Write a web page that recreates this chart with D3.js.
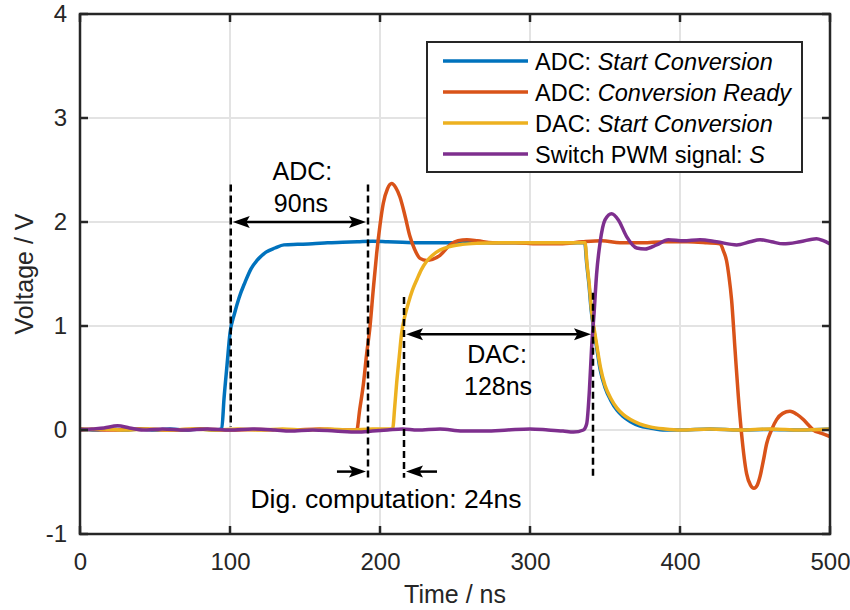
<!DOCTYPE html>
<html>
<head>
<meta charset="utf-8">
<script src="https://cdn.jsdelivr.net/npm/d3@7/dist/d3.min.js"></script>
<style>
  html, body { margin: 0; padding: 0; background: #fff; }
  svg { display: block; font-family: "Liberation Sans", Arial, Helvetica, sans-serif; }
</style>
</head>
<body>
<svg id="chart" width="850" height="610"></svg>
<script>
// ---- data (time in ns, voltage in V) ----
const xTicks = [0, 100, 200, 300, 400, 500];
const yTicks = [-1, 0, 1, 2, 3, 4];

const adcStart = [[0,0.01],[10,0.0],[20,0.01],[30,0.0],[40,0.01],[50,0.0],[60,0.01],[70,0.0],[80,0.01],[90,0.0],[94.5,0.01],[96,0.3],[98,0.62],[100,0.93],[103,1.12],[106,1.27],[110,1.42],[114,1.55],[118,1.63],[124,1.71],[130,1.75],[136,1.78],[145,1.785],[155,1.79],[165,1.80],[175,1.805],[185,1.81],[195,1.815],[205,1.81],[215,1.805],[225,1.80],[240,1.80],[255,1.80],[270,1.80],[285,1.80],[300,1.80],[315,1.80],[330,1.80],[336.5,1.80],[337.8,1.6],[339.3,1.4],[340.8,1.15],[342.8,0.94],[344.8,0.76],[346.8,0.58],[350,0.41],[354,0.28],[358,0.19],[362,0.13],[367,0.08],[373,0.04],[380,0.02],[390,0.0],[400,0.0],[420,0.01],[440,0.0],[460,0.005],[480,0.0],[500,0.01]];

const adcReady = [[0,0.01],[20,0.0],[40,0.01],[60,0.0],[80,0.01],[100,0.0],[120,0.005],[140,0.0],[160,0.01],[175,0.0],[184.5,0.0],[186.5,0.2],[189,0.45],[191,0.72],[193.3,0.99],[195.5,1.35],[197.8,1.70],[200,1.97],[202.2,2.18],[205,2.32],[207.8,2.37],[210.5,2.33],[213.3,2.24],[216.5,2.07],[220,1.86],[223,1.74],[226.7,1.65],[231,1.63],[235,1.64],[240,1.68],[246.7,1.78],[252,1.82],[258,1.83],[265,1.82],[275,1.80],[290,1.80],[305,1.79],[320,1.79],[335,1.81],[348,1.82],[360,1.80],[375,1.80],[390,1.81],[405,1.81],[418,1.80],[426.7,1.79],[429,1.72],[431,1.63],[432.7,1.47],[434.4,1.25],[436.7,0.77],[438.9,0.32],[441,-0.03],[444.4,-0.42],[447,-0.53],[449.3,-0.56],[451.5,-0.53],[453.3,-0.45],[455.5,-0.30],[457.8,-0.13],[461,0.0],[464.4,0.10],[468.5,0.16],[473.3,0.18],[478,0.15],[482.2,0.10],[485.5,0.05],[488.9,0.0],[494,-0.03],[499.5,-0.06]];

const dacStart = [[0,0.0],[15,0.01],[30,0.0],[45,0.01],[60,0.0],[75,0.01],[90,0.0],[105,0.01],[120,0.0],[135,0.01],[150,0.0],[165,0.01],[180,0.0],[195,0.01],[208.4,0.01],[209.8,0.22],[211.1,0.45],[212.8,0.70],[214.4,0.93],[216.5,1.09],[218.9,1.22],[221.5,1.34],[224.4,1.44],[227.5,1.54],[231,1.62],[235,1.68],[240,1.73],[246.7,1.765],[255,1.785],[265,1.795],[280,1.80],[300,1.80],[320,1.80],[336.7,1.80],[338,1.6],[339.5,1.4],[341,1.15],[343,0.95],[345,0.77],[347,0.6],[350,0.43],[354,0.3],[358,0.21],[362,0.15],[367,0.1],[373,0.06],[380,0.03],[390,0.01],[400,0.0],[420,0.01],[440,0.0],[460,0.01],[480,0.0],[500,0.01]];

const pwmS = [[0,0.0],[8,0.01],[16,0.02],[25,0.04],[33,0.02],[42,0.0],[55,0.01],[70,0.0],[85,0.01],[100,0.0],[115,0.01],[130,0.0],[140,-0.01],[155,0.0],[170,-0.01],[185,-0.02],[195,-0.01],[205,0.0],[215,0.01],[225,0.0],[240,0.01],[255,-0.01],[270,-0.01],[285,0.0],[300,0.01],[312,0.0],[322,-0.01],[329,-0.02],[335.6,0.0],[337.8,0.06],[339.6,0.38],[341.1,0.80],[342.7,1.12],[344.4,1.50],[346.7,1.80],[350,2.02],[354.4,2.08],[358.9,2.02],[364.4,1.86],[371.1,1.75],[376.7,1.74],[384.4,1.78],[392.2,1.83],[402.2,1.82],[413.3,1.83],[424.4,1.81],[437.8,1.78],[446.7,1.81],[453.3,1.83],[461,1.81],[468.9,1.79],[480,1.81],[491,1.84],[495.5,1.82],[500,1.79]];

const seriesNames = ["ADC: ", "ADC: ", "DAC: ", "Switch PWM signal: "];
const seriesItalic = ["Start Conversion", "Conversion Ready", "Start Conversion", "S"];
const seriesColors = ["#0072BD", "#D95319", "#EDB120", "#7E2F8E"];
const seriesData = [adcStart, adcReady, dacStart, pwmS];

// annotation values
const markerTimes = [100.5, 192, 216, 342];
const markerTop = [2.36, 2.36, 1.28, 1.32];
const markerBottom = [0.03, -0.46, -0.46, -0.46];
const arrowDouble = [{t0: 100.5, t1: 192, v: 2.0}, {t0: 216, t1: 342, v: 0.92}];
const arrowSingle = [{from: 171.3, to: 192, v: -0.4}, {from: 238, to: 216, v: -0.4}];
const notes = [
  {text: "ADC:", t: 148.3, v: 2.40, size: 25},
  {text: "90ns", t: 147.3, v: 2.10, size: 25},
  {text: "DAC:", t: 278, v: 0.644, size: 25},
  {text: "128ns", t: 278.7, v: 0.337, size: 25},
  {text: "Dig. computation: 24ns", t: 204, v: -0.75, size: 26.5}
];

// ---- layout ----
const svg = d3.select("#chart");
const L = 80, R = 830, T = 14, B = 534;
const x = d3.scaleLinear().domain([0, 500]).range([L, R]);
const y = d3.scaleLinear().domain([-1, 4]).range([B, T]);
const axisColor = "#262626";

// grid
const grid = svg.append("g");
grid.selectAll(".gx").data(xTicks).enter().append("line")
  .attr("x1", d => x(d)).attr("x2", d => x(d)).attr("y1", T).attr("y2", B)
  .attr("stroke", "#e3e3e3").attr("stroke-width", 2);
grid.selectAll(".gy").data(yTicks).enter().append("line")
  .attr("y1", d => y(d)).attr("y2", d => y(d)).attr("x1", L).attr("x2", R)
  .attr("stroke", "#e3e3e3").attr("stroke-width", 2);

// series
const line = d3.line().x(d => x(d[0])).y(d => y(d[1])).curve(d3.curveMonotoneX);
svg.append("clipPath").attr("id", "plotclip").append("rect")
  .attr("x", L).attr("y", T).attr("width", R - L).attr("height", B - T);
const lines = svg.append("g").attr("clip-path", "url(#plotclip)");
seriesData.forEach((s, i) => {
  lines.append("path").datum(s).attr("d", line)
    .attr("fill", "none").attr("stroke", seriesColors[i]).attr("stroke-width", 3.5)
    .attr("stroke-linejoin", "round").attr("stroke-linecap", "round");
});

// annotations: dashed markers
const ann = svg.append("g");
markerTimes.forEach((t, i) => {
  ann.append("line").attr("x1", x(t)).attr("x2", x(t))
    .attr("y1", y(markerTop[i])).attr("y2", y(markerBottom[i]))
    .attr("stroke", "#000").attr("stroke-width", 2.5).attr("stroke-dasharray", "7,4");
});

function arrowHead(g, tipX, tipY, dir) {
  const len = 17, hw = 6;
  g.append("path")
    .attr("d", `M${tipX},${tipY} L${tipX - dir * len},${tipY - hw} L${tipX - dir * len * 0.8},${tipY} L${tipX - dir * len},${tipY + hw} Z`)
    .attr("fill", "#000");
}
arrowDouble.forEach(a => {
  const x0 = x(a.t0) + 2, x1 = x(a.t1) - 2, yy = y(a.v);
  ann.append("line").attr("x1", x0 + 10).attr("x2", x1 - 10).attr("y1", yy).attr("y2", yy)
    .attr("stroke", "#000").attr("stroke-width", 2.5);
  arrowHead(ann, x1, yy, 1);
  arrowHead(ann, x0, yy, -1);
});
arrowSingle.forEach(a => {
  const dir = a.to > a.from ? 1 : -1;
  const x0 = x(a.from), x1 = x(a.to) - dir * 2, yy = y(a.v);
  ann.append("line").attr("x1", x0).attr("x2", x1 - dir * 10).attr("y1", yy).attr("y2", yy)
    .attr("stroke", "#000").attr("stroke-width", 2.5);
  arrowHead(ann, x1, yy, dir);
});
ann.selectAll(".note").data(notes).enter().append("text")
  .attr("x", d => x(d.t)).attr("y", d => y(d.v))
  .attr("text-anchor", "middle").attr("font-size", d => d.size).attr("fill", "#000")
  .text(d => d.text);

// box + ticks
const box = svg.append("g");
box.append("rect").attr("x", L).attr("y", T).attr("width", R - L).attr("height", B - T)
  .attr("fill", "none").attr("stroke", axisColor).attr("stroke-width", 2.5);
const tl = 8;
xTicks.forEach(t => {
  box.append("line").attr("x1", x(t)).attr("x2", x(t)).attr("y1", B).attr("y2", B - tl).attr("stroke", axisColor).attr("stroke-width", 2.5);
  box.append("line").attr("x1", x(t)).attr("x2", x(t)).attr("y1", T).attr("y2", T + tl).attr("stroke", axisColor).attr("stroke-width", 2.5);
});
yTicks.forEach(t => {
  box.append("line").attr("y1", y(t)).attr("y2", y(t)).attr("x1", L).attr("x2", L + tl).attr("stroke", axisColor).attr("stroke-width", 2.5);
  box.append("line").attr("y1", y(t)).attr("y2", y(t)).attr("x1", R).attr("x2", R - tl).attr("stroke", axisColor).attr("stroke-width", 2.5);
});

// tick labels via d3 axes (lines hidden)
const fmt = d => String(d);
const xAxis = svg.append("g").attr("transform", `translate(0,${B})`)
  .call(d3.axisBottom(x).tickValues(xTicks).tickSize(0).tickPadding(27).tickFormat(fmt));
const yAxis = svg.append("g").attr("transform", `translate(${L},0)`)
  .call(d3.axisLeft(y).tickValues(yTicks).tickSize(0).tickPadding(13).tickFormat(fmt));
[xAxis, yAxis].forEach(a => {
  a.select(".domain").remove();
  a.selectAll("text").attr("font-size", 24).attr("fill", axisColor)
    .attr("font-family", "'Liberation Sans', Arial, Helvetica, sans-serif");
});
xAxis.selectAll("text").attr("dy", 0).attr("y", 36);

// axis labels
svg.append("text").attr("x", (L + R) / 2).attr("y", 603).attr("text-anchor", "middle")
  .attr("font-size", 25).attr("fill", axisColor).text("Time / ns");
svg.append("text").attr("transform", `translate(33,${(T + B) / 2}) rotate(-90)`).attr("text-anchor", "middle")
  .attr("font-size", 25).attr("fill", axisColor).text("Voltage / V");

// legend
const lg = svg.append("g");
lg.append("rect").attr("x", 427).attr("y", 42).attr("width", 375).attr("height", 130)
  .attr("fill", "#fff").attr("stroke", axisColor).attr("stroke-width", 2);
seriesNames.forEach((n, i) => {
  const yy = 61 + i * 31;
  lg.append("line").attr("x1", 443).attr("x2", 528).attr("y1", yy).attr("y2", yy)
    .attr("stroke", seriesColors[i]).attr("stroke-width", 3.5);
  const tx = lg.append("text").attr("x", 535).attr("y", yy + 8.5).attr("font-size", 23.5).attr("fill", "#000");
  tx.append("tspan").text(n);
  tx.append("tspan").attr("font-style", "italic").text(seriesItalic[i]);
});
</script>
</body>
</html>
